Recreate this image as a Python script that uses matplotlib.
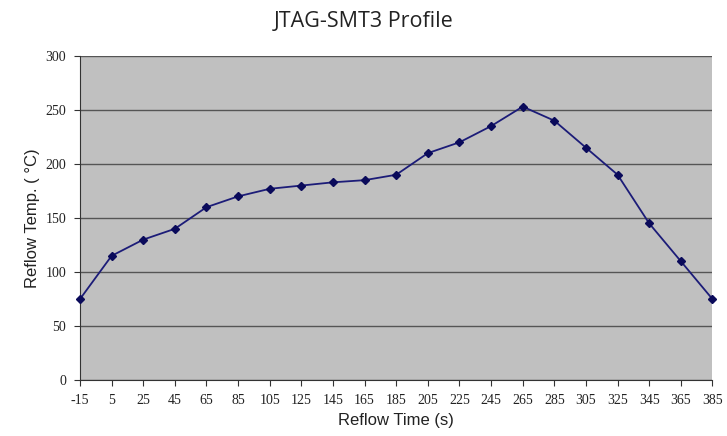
import matplotlib.pyplot as plt

plt.rcParams["axes.unicode_minus"] = False

reflow_time = [-15, 5, 25, 45, 65, 85, 105, 125, 145, 165, 185, 205, 225, 245, 265, 285, 305, 325, 345, 365, 385]
reflow_temp = [75, 115, 130, 140, 160, 170, 177, 180, 183, 185, 190, 210, 220, 235, 253, 240, 215, 190, 145, 110, 75]
y_ticks = [0, 50, 100, 150, 200, 250, 300]

fig = plt.figure(figsize=(7.27, 4.36), dpi=100)
ax = fig.add_axes([0.110, 0.128, 0.870, 0.744])
ax.set_facecolor("#c0c0c0")

ax.plot(reflow_time, reflow_temp, color="#1c1c78", lw=1.3, marker="D", ms=4.5,
        mfc="#0a0a5a", mec="#0a0a5a", clip_on=False, zorder=3)

ax.set_xlim(-15, 385)
ax.set_ylim(0, 300)
ax.set_xticks(reflow_time)
ax.set_yticks(y_ticks)
ax.grid(axis="y", color="#555555", lw=1.0)
ax.set_axisbelow(True)

for s in ["top", "right"]:
    ax.spines[s].set_visible(False)
for s in ["left", "bottom"]:
    ax.spines[s].set_color("#333333")

ax.tick_params(direction="out", length=4, color="#333333", labelcolor="#222222",
               labelsize=10, pad=6)
for lab in ax.get_xticklabels() + ax.get_yticklabels():
    lab.set_family("Liberation Serif")

ax.set_xlabel("Reflow Time (s)", fontsize=12, family="Liberation Sans", color="#222222")
ax.set_ylabel("Reflow Temp. ( \u00b0C)", fontsize=12, family="Liberation Sans", color="#222222")
fig.suptitle("JTAG-SMT3 Profile", y=0.975, fontsize=15.5, family="Open Sans", color="#222222")

fig.savefig("out.png")
